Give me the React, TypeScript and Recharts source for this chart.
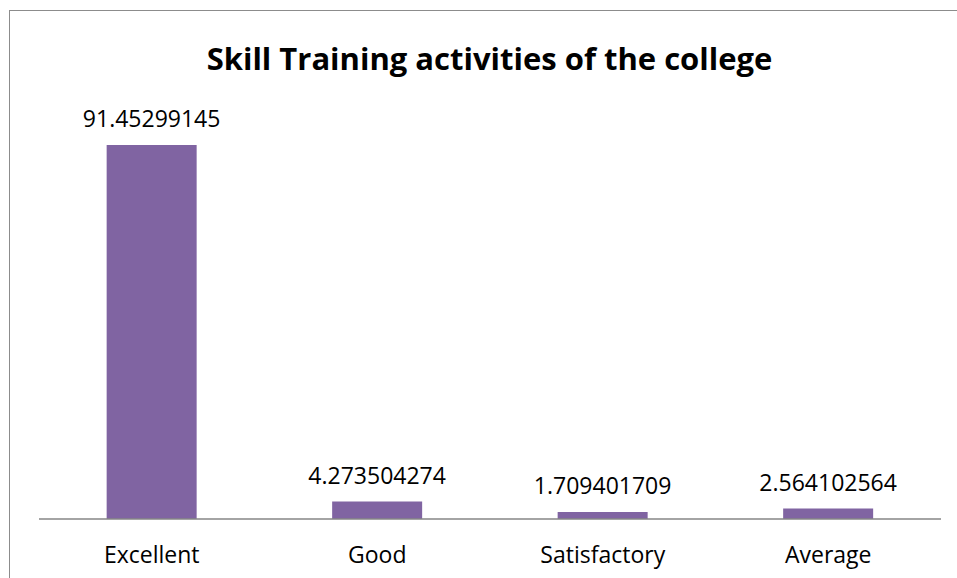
import React from 'react';
import { BarChart, Bar, XAxis, YAxis, LabelList } from 'recharts';

const categories = ['Excellent', 'Good', 'Satisfactory', 'Average'];
const percentages = [91.45299145, 4.273504274, 1.709401709, 2.564102564];
const labels = ['91.45299145', '4.273504274', '1.709401709', '2.564102564'];

const data = categories.map((name, i) => ({ name, value: percentages[i], label: labels[i] }));

const font = '"Open Sans", "Noto Sans", sans-serif';

export default function App() {
  return (
    <div
      style={{
        position: 'fixed',
        left: 0,
        top: 0,
        width: 957,
        height: 578,
        background: '#fff',
        overflow: 'hidden',
        fontFamily: font,
      }}
    >
      {/* chart frame, cut off at the right and bottom edges */}
      <div
        style={{
          position: 'absolute',
          left: 9,
          top: 10,
          width: 1100,
          height: 800,
          border: '1.5px solid #8c8c8c',
          boxSizing: 'border-box',
        }}
      />
      <div
        style={{
          position: 'absolute',
          left: 0,
          top: 37,
          width: 979,
          textAlign: 'center',
          fontSize: 31,
          fontWeight: 700,
          color: '#000',
        }}
      >
        Skill Training activities of the college
      </div>
      <div style={{ position: 'absolute', left: 0, top: 0 }}>
        <BarChart
          width={957}
          height={578}
          data={data}
          margin={{ top: 110, right: 16, left: 39, bottom: 29 }}
          barCategoryGap="30%"
        >
          <YAxis hide domain={[0, 100]} />
          <XAxis
            dataKey="name"
            height={30}
            tickLine={false}
            tickMargin={22}
            axisLine={{ stroke: '#868686', strokeWidth: 1.5 }}
            tick={{ fill: '#000', fontSize: 23, fontFamily: font }}
            interval={0}
          />
          <Bar dataKey="value" fill="#8064A2" isAnimationActive={false}>
            <LabelList
              dataKey="label"
              position="top"
              offset={18}
              style={{ fill: '#000', fontSize: 23, fontFamily: font }}
            />
          </Bar>
        </BarChart>
      </div>
    </div>
  );
}
